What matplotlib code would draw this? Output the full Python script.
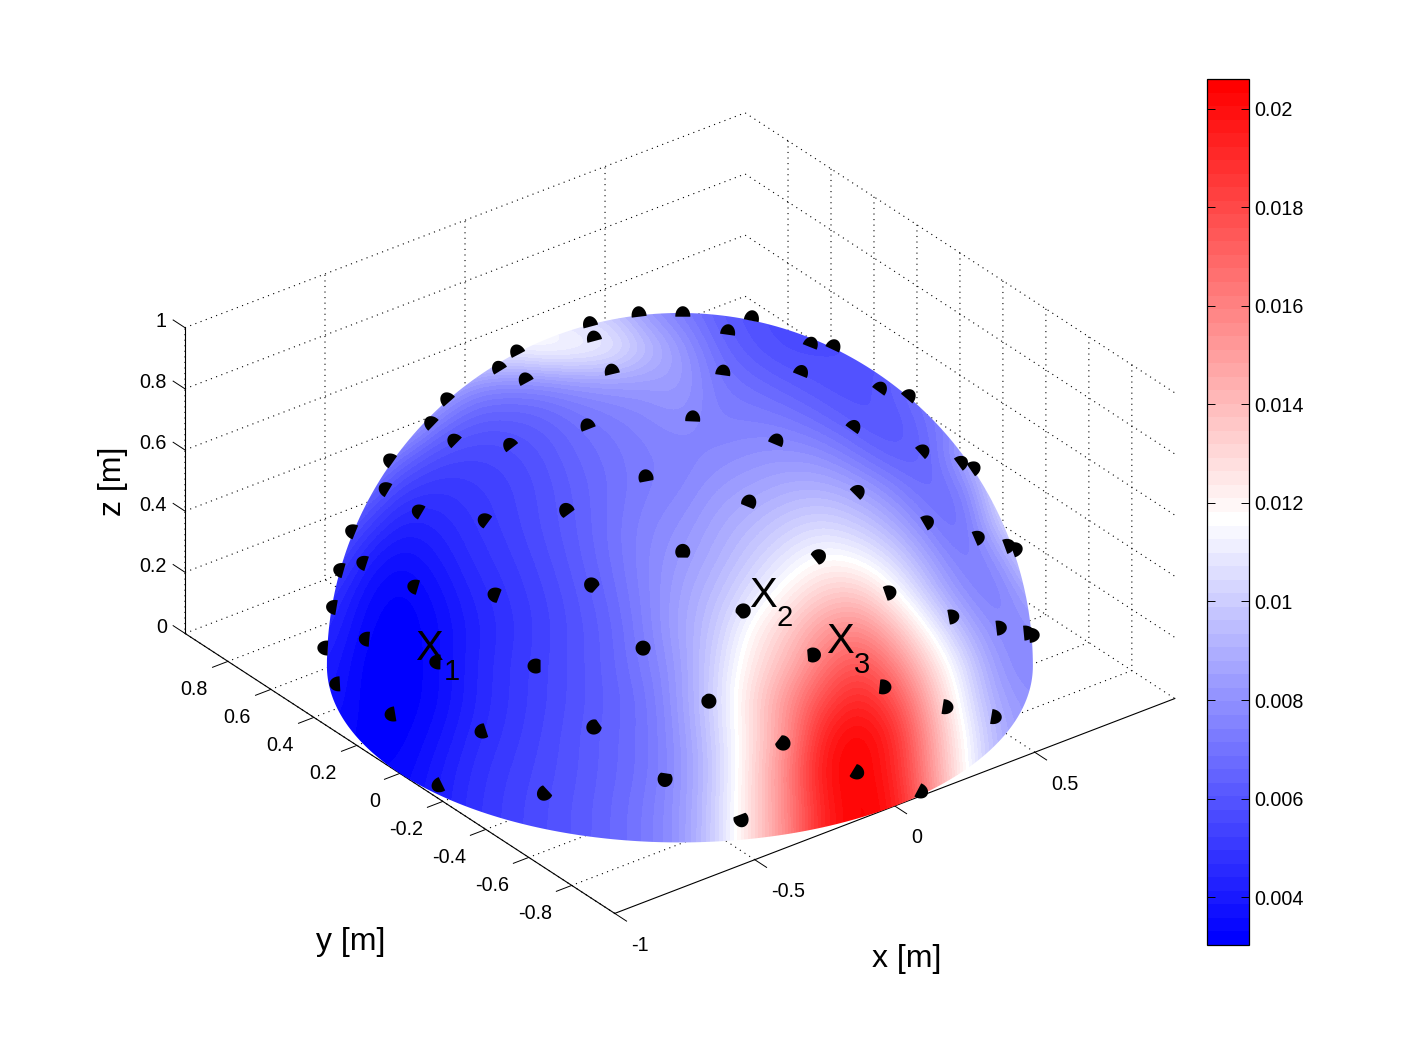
# Pressure on a hemispherical microphone array, 3D view with colorbar

import numpy as np
import matplotlib
matplotlib.use('Agg')
import matplotlib.pyplot as plt
from matplotlib.cm import ScalarMappable
from matplotlib.colors import ListedColormap, Normalize
from matplotlib.patches import Polygon
from mpl_toolkits.mplot3d import proj3d

plt.rcParams['font.family'] = ['Liberation Sans', 'DejaVu Sans']

# Microphone positions [m]
mic_x = [0.051,-0.070,-0.124,-0.249,-0.313,-0.180,-0.318,-0.450,-0.544,-0.520,-0.368,-0.475,-0.637,-0.726,-0.697,
         -0.566,-0.362,-0.620,-0.800,0.235,0.181,-0.715,0.446,0.223,0.448,0.560,0.053,0.278,0.529,0.667,
         -0.141,0.019,0.290,0.497,0.670,0.750,-0.167,0.161,0.351,0.546,0.718,0.787,-0.399,-0.060,
         -0.856,-0.792,-0.628,-0.784,-0.921,-0.782,-0.925,-0.808,-0.595,-0.910,-0.985,-0.927,-0.752,-0.634,-0.986,-0.864,
         -0.328,0.110,0.309,0.511,0.681,0.735,-0.186,-0.000,0.206,0.414,-0.493,-0.332,-0.132,0.082,-0.466]
mic_y = [0.491,0.315,0.600,0.521,0.314,0.089,0.670,0.572,0.342,0.115,-0.044,0.729,0.538,0.268,0.001,
         -0.204,-0.305,0.715,0.428,0.302,0.435,0.646,0.258,0.078,-0.012,0.029,-0.121,-0.188,-0.226,-0.179,
         -0.234,-0.411,-0.414,-0.463,-0.416,-0.370,-0.528,-0.601,-0.673,-0.654,-0.570,-0.516,-0.524,-0.710,
         0.118,-0.169,-0.400,0.589,0.258,0.632,-0.074,-0.374,-0.595,0.409,0.055,-0.285,-0.572,-0.748,-0.163,-0.490,
         -0.712,-0.813,-0.844,-0.801,-0.707,-0.662,-0.851,-0.933,-0.951,-0.904,-0.768,-0.901,-0.980,-0.996,-0.882]
mic_z = [0.870,0.946,0.790,0.817,0.896,0.980,0.671,0.685,0.766,0.847,0.929,0.501,0.552,0.634,0.717,
         0.798,0.881,0.328,0.420,0.924,0.882,0.267,0.857,0.972,0.894,0.828,0.991,0.942,0.818,0.724,
         0.962,0.912,0.863,0.734,0.615,0.548,0.833,0.783,0.651,0.524,0.399,0.339,0.753,0.702,
         0.504,0.587,0.668,0.197,0.293,0.044,0.372,0.455,0.540,0.074,0.164,0.244,0.327,0.196,0.034,0.114,
         0.621,0.572,0.438,0.311,0.192,0.145,0.491,0.359,0.230,0.103,0.410,0.278,0.150,0.020,0.068]

# Surface values (x 1e-3) read on the view plane, top row first, left column first
field_rows = [
    [12,12,12,12,12,12,11,10,9.5,8,7.2,6.3,5.8,5.6,5.6,5.8,6,6.5,7,8,9],
    [12,12,12,12,12,11.5,12.2,12,11.5,9.8,8.3,6.8,6,5.6,5.7,5.8,6,6.5,7,8,9],
    [11,11,11,10,8,7.6,7.6,8,8.2,8.3,8.5,7.2,6.8,6.3,5.9,5.8,6.5,7.5,8,9,9],
    [10,10,10,7.5,6.3,6.2,6.4,6.9,7.3,7.6,8,7.4,7.4,7.2,6.6,6,5.9,7,8,9,10],
    [9,9,7,5.7,5.5,5.6,6,6.6,7,7.4,7.5,7.7,8,8.1,7.9,7,6.2,6.4,9,11,11],
    [8,7,5.2,4.9,5.1,5.4,5.8,6.4,6.9,7.4,7.6,8.3,8.6,9,9.1,8.6,7.6,6.5,7.2,11,12],
    [7,5.4,4.2,4.4,4.9,5.3,5.8,6.3,7,7.6,8,8.7,9.3,10,10.4,9.9,8.9,7.4,6.5,10,12],
    [6,4.2,3.5,4,4.7,5.1,5.6,6.2,6.9,7.7,8.3,9,10,11,11.9,11.6,10.4,8.6,7,7.8,11],
    [5,3.6,3.1,3.6,4.4,4.9,5.4,6,6.7,7.6,8.6,9.5,10.8,12.2,13.5,13.8,12,9.8,7.8,7.1,9],
    [4.6,3.3,3.03,3.4,4.2,4.8,5.3,5.9,6.5,7.5,8.7,9.9,12,13.5,15.3,16,14.2,11.6,9.2,7.5,8],
    [4.2,3.1,3.03,3.4,4.3,4.9,5.4,5.9,6.5,7.3,8.4,10.3,12.5,14.2,16.5,18,16.2,13.3,10.5,8,7.5],
    [4,3.1,3.03,3.4,4.3,4.9,5.4,5.9,6.4,7,8.4,10.4,13,15.5,18,19.5,18,14.5,11,8.5,8],
    [3.5,3.2,3.1,3.7,4.5,5,5.5,6,6.5,7,8.2,10.2,12.8,15.5,19.5,20.6,19.3,15.2,11.6,9,8],
    [3.3,3.3,3.3,4,4.7,5.2,5.6,6,6.5,7,8.1,10,13,16,20,20.6,19.5,15.5,11.8,9,8],
    [3.5,3.5,3.5,4.1,4.8,5.3,5.7,6.1,6.6,7.2,8.2,10.2,13,15.8,19.5,20.6,20,16,12,9,8],
    [3.5,3.5,3.6,4.1,4.8,5.3,5.7,6.1,6.6,7.2,8.2,10.2,13,15.8,19.5,20.6,20,16,12,9,8],
]

x_ticks = [-1, -0.5, 0, 0.5]
x_labels = ['-1', '-0.5', '0', '0.5']
y_ticks = [-0.8, -0.6, -0.4, -0.2, 0, 0.2, 0.4, 0.6, 0.8]
y_labels = ['-0.8', '-0.6', '-0.4', '-0.2', '0', '0.2', '0.4', '0.6', '0.8']
z_ticks = [0, 0.2, 0.4, 0.6, 0.8, 1]
z_labels = ['0', '0.2', '0.4', '0.6', '0.8', '1']
cbar_ticks = [0.004, 0.006, 0.008, 0.01, 0.012, 0.014, 0.016, 0.018, 0.02]
cbar_labels = ['0.004', '0.006', '0.008', '0.01', '0.012', '0.014', '0.016', '0.018', '0.02']
color_min = 0.00303
color_max = 0.0206

W, H = 1418, 1064
AZ, EL = -127.5, 30

# 64 step blue-white-red map, white on step 31
shades = [[i/31, i/31, 1] for i in range(32)] + [[1, (63-i)/32, (63-i)/32] for i in range(32, 64)]
cmap = ListedColormap(shades)
norm = Normalize(color_min, color_max)

fig = plt.figure(figsize=(W/100, H/100), dpi=100)
ax = fig.add_axes([152/W, 23/H, 1028/W, 1028/H], projection='3d', proj_type='ortho')
ax.view_init(elev=EL, azim=AZ)
ax.set_xlim(-1, 1, view_margin=0)
ax.set_ylim(-1, 1, view_margin=0)
ax.set_zlim(0, 1, view_margin=0)
ax.set_box_aspect((2, 2, 1))
ax.patch.set_visible(False)
ax.set_xticks(x_ticks)
ax.set_yticks(y_ticks)
ax.set_zticks(z_ticks)
ax.set_xticklabels([])
ax.set_yticklabels([])
ax.set_zticklabels([])
for axis in (ax.xaxis, ax.yaxis, ax.zaxis):
    axis.set_pane_color((1, 1, 1, 0))
    axis.pane.set_edgecolor((1, 1, 1, 0))
    axis.line.set_color((1, 1, 1, 0))
    axis._axinfo['tick']['inward_factor'] = 0
    axis._axinfo['tick']['outward_factor'] = 0
    axis._axinfo['grid'].update(color='k', linewidth=0.8, linestyle=(0, (1, 4)))

# Axis lines and ticks in data coordinates
ax.plot([-1, 1], [-1, -1], [0, 0], color='k', lw=0.8)
ax.plot([-1, -1], [-1, 1], [0, 0], color='k', lw=0.8)
ax.plot([-1, -1], [1, 1], [0, 1], color='k', lw=0.8)
tick = 0.055
for t in x_ticks:
    ax.plot([t, t], [-1, -1-tick], [0, 0], color='k', lw=0.7)
for t in y_ticks:
    ax.plot([-1, -1-tick], [t, t], [0, 0], color='k', lw=0.7)
for t in z_ticks:
    ax.plot([-1, -1], [1, 1+tick], [t, t], color='k', lw=0.7)

fig.canvas.draw()


def to_px(x, y, z):
    # data coordinates to image pixels, y going down
    xp, yp, _ = proj3d.proj_transform(np.atleast_1d(x), np.atleast_1d(y), np.atleast_1d(z), ax.get_proj())
    d = ax.transData.transform(np.column_stack([xp, yp]))
    return np.column_stack([d[:, 0], H - d[:, 1]])


# Pixel overlay for the dome, the markers and the texts
ov = fig.add_axes([0, 0, 1, 1], facecolor='none')
ov.axis('off')

az, el = np.radians(AZ), np.radians(EL)
right = np.array([-np.sin(az), np.cos(az), 0])
up = np.array([-np.cos(az)*np.sin(el), -np.sin(az)*np.sin(el), np.cos(el)])
view = np.array([np.cos(az)*np.cos(el), np.sin(az)*np.cos(el), np.sin(el)])
front = np.array([np.cos(az), np.sin(az), 0])

center = to_px(0, 0, 0)[0]
radius = to_px(*right)[0, 0] - center[0]
read_shift = 2  # the field and the markers were read 2 px right of the box centre

field = np.array(field_rows)*1e-3
extent = [center[0]+read_shift-1.05*radius, center[0]+read_shift+1.05*radius,
          center[1]+0.55*radius, center[1]-1.05*radius]
im = ov.imshow(field, extent=extent, origin='upper', cmap=cmap, norm=norm, aspect='auto',
               interpolation='bicubic', interpolation_stage='data')

# Outline of the visible dome: upper silhouette then front of the base circle
t = np.linspace(0, np.pi, 181)
top = np.outer(np.cos(t), right) + np.outer(np.sin(t), up)
base = np.outer(np.cos(t[::-1]), right) + np.outer(np.sin(t[::-1]), front)
outline = np.vstack([top, base])
outline_px = to_px(outline[:, 0], outline[:, 1], outline[:, 2])
im.set_clip_path(Polygon(outline_px, closed=True, transform=ov.transData))

# Half buried markers: flat cut on the inner side, round when facing the viewer
mic_r = 7.5
a = np.linspace(0, 2*np.pi, 61)
for p in np.column_stack([mic_x, mic_y, mic_z]):
    c = to_px(*p)[0]
    n = p/np.linalg.norm(p)
    e2 = c - center
    e2 = e2/max(np.linalg.norm(e2), 1e-6)
    e1 = np.array([-e2[1], e2[0]])
    facing = max(n @ view, 0)**6
    s = np.maximum(np.sin(a), -(0.1 + 0.9*facing))
    s = np.where(s > 0, s*(1 + 0.3*(1-facing)), s)
    c = c + [read_shift, 0]
    ov.add_patch(Polygon(c + mic_r*(np.outer(np.cos(a), e1) + np.outer(s, e2)), closed=True,
                         facecolor='k', edgecolor='none'))

tick_size = 14.2
for t, lab in zip(x_ticks, x_labels):
    q = to_px(t, -1, 0)[0]
    ov.text(q[0]+16, q[1]+32, lab, ha='left', va='center', fontsize=tick_size)
for t, lab in zip(y_ticks, y_labels):
    q = to_px(-1, t, 0)[0]
    ov.text(q[0]-20, q[1]+28, lab, ha='right', va='center', fontsize=tick_size)
for t, lab in zip(z_ticks, z_labels):
    q = to_px(-1, 1, t)[0]
    ov.text(q[0]-18, q[1]-6, lab, ha='right', va='center', fontsize=tick_size)

ov.text(907, 959, 'x [m]', ha='center', va='center', fontsize=23)
ov.text(351, 942, 'y [m]', ha='center', va='center', fontsize=23)
ov.text(113, 481, 'z [m]', ha='center', va='center', rotation=90, fontsize=23)

# Source labels, subscripts set by hand to sit as low as in the figure
ov.text(415, 660, 'X', ha='left', va='baseline', fontsize=30)
ov.text(444, 680, '1', ha='left', va='baseline', fontsize=21)
ov.text(749, 607, 'X', ha='left', va='baseline', fontsize=30)
ov.text(777, 626, '2', ha='left', va='baseline', fontsize=21)
ov.text(826, 653, 'X', ha='left', va='baseline', fontsize=30)
ov.text(854, 673, '3', ha='left', va='baseline', fontsize=21)

ov.set_xlim(0, W)
ov.set_ylim(H, 0)

# Colorbar
cax = fig.add_axes([1207/W, (H-945)/H, 42/W, 866/H])
cb = fig.colorbar(ScalarMappable(norm=norm, cmap=cmap), cax=cax, ticks=cbar_ticks)
cb.set_ticklabels(cbar_labels)
cb.outline.set_linewidth(0.9)
cax.tick_params(left=True, right=True, direction='in', length=6, width=0.7, labelsize=tick_size, pad=3.5)

fig.savefig('out.png', dpi=100)
